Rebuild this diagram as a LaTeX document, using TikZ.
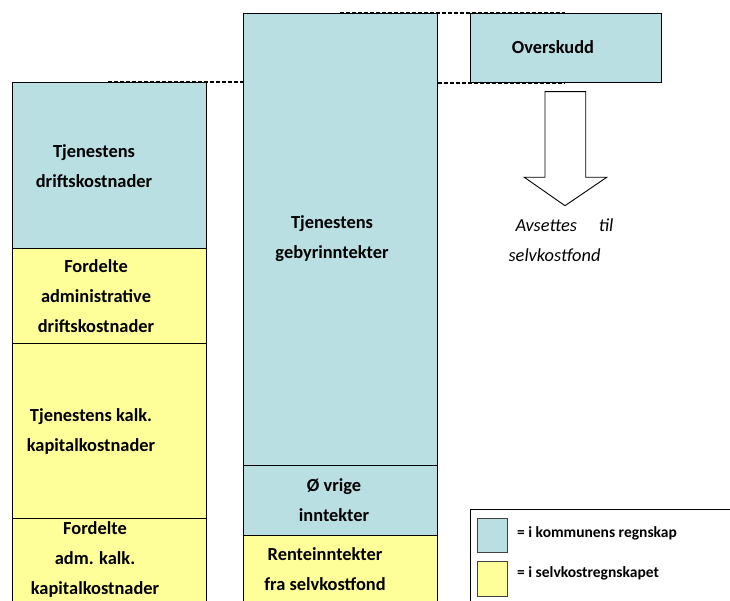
\documentclass[tikz,border=0pt]{standalone}
\usepackage{fontspec}
\setmainfont{Carlito}
\usetikzlibrary{positioning}
\definecolor{kommblue}{RGB}{185,223,227}
\definecolor{selvyellow}{RGB}{255,255,153}
\tikzset{
  boxtext/.style={align=center, font=\fontsize{18.4}{30}\selectfont\bfseries},
  legtext/.style={anchor=west, inner sep=0pt, font=\fontsize{15.5}{18}\selectfont\bfseries},
  blueblock/.style={draw, line width=0.9pt, fill=kommblue},
  yellowblock/.style={draw, line width=0.9pt, fill=selvyellow},
  levelline/.style={line width=2pt, dash pattern=on 4pt off 2pt}
}
\begin{document}
\begin{tikzpicture}[x=1pt, y=-1pt]
\useasboundingbox (0,0) rectangle (730,601);
\begin{scope}
\clip (0,0) rectangle (730,601);
% kostnader
\filldraw [blueblock] (12,82.5) rectangle (206.5,248.3);
\filldraw [yellowblock] (12,248.3) rectangle (206.5,343.3);
\filldraw [yellowblock] (12,343.3) rectangle (206.5,518.3);
\filldraw [yellowblock] (12,518.3) rectangle (206.5,620);
% inntekter
\filldraw [blueblock] (243.3,13.3) rectangle (437.7,465);
\filldraw [blueblock] (243.3,465) rectangle (437.7,535.7);
\filldraw [yellowblock] (243.3,535.7) rectangle (437.7,620);
% overskudd
\filldraw [blueblock] (470,13.3) rectangle (661.7,82.7);
% legend
\draw [line width=0.9pt, fill=white] (470,509.3) rectangle (745,620);
\filldraw [blueblock, draw=black!75] (477.3,518) rectangle (507.7,552);
\filldraw [yellowblock, draw=black!75] (477.3,561.7) rectangle (507.7,596);
\end{scope}
\draw [levelline] (108,81.8) -- (243.3,81.8);
\draw [levelline] (340,12.6) -- (565,12.6);
\draw [levelline] (437.7,83) -- (565,83);
\draw [line width=0.9pt, fill=white] (545,91.7) -- (585.7,91.7) -- (585.7,177.3) -- (606.7,177.3)
  -- (565,205.7) -- (524.3,177.3) -- (545,177.3) -- cycle;
\node [boxtext] (drift) at (94,166) {Tjenestens\\driftskostnader};
\node [boxtext] (admdrift) at (96,296) {Fordelte\\administrative\\driftskostnader};
\node [boxtext] (kalk) at (91,431) {Tjenestens kalk.\\kapitalkostnader};
\node [boxtext] (admkalk) at (95,559) {Fordelte\\adm. kalk.\\kapitalkostnader};
\node [boxtext] (gebyr) at (332,239) {Tjenestens\\gebyrinntekter};
\node [boxtext] (ovrige) at (334,500) {Ø vrige\\inntekter};
\node [boxtext] (rente) at (325,569) {Renteinntekter\\fra selvkostfond};
\node [boxtext] (overskudd) at (553,47) {Overskudd};
\node [align=left, font=\fontsize{18.4}{30}\selectfont\itshape] (avsett) at (561,240)
  {\hspace{7pt}Avsettes\hspace{22pt}til\\selvkostfond};
\node [legtext] (legblue) at (517,533) {= i kommunens regnskap};
\node [legtext] (legyellow) at (517,573) {= i selvkostregnskapet};
\end{tikzpicture}
\end{document}
